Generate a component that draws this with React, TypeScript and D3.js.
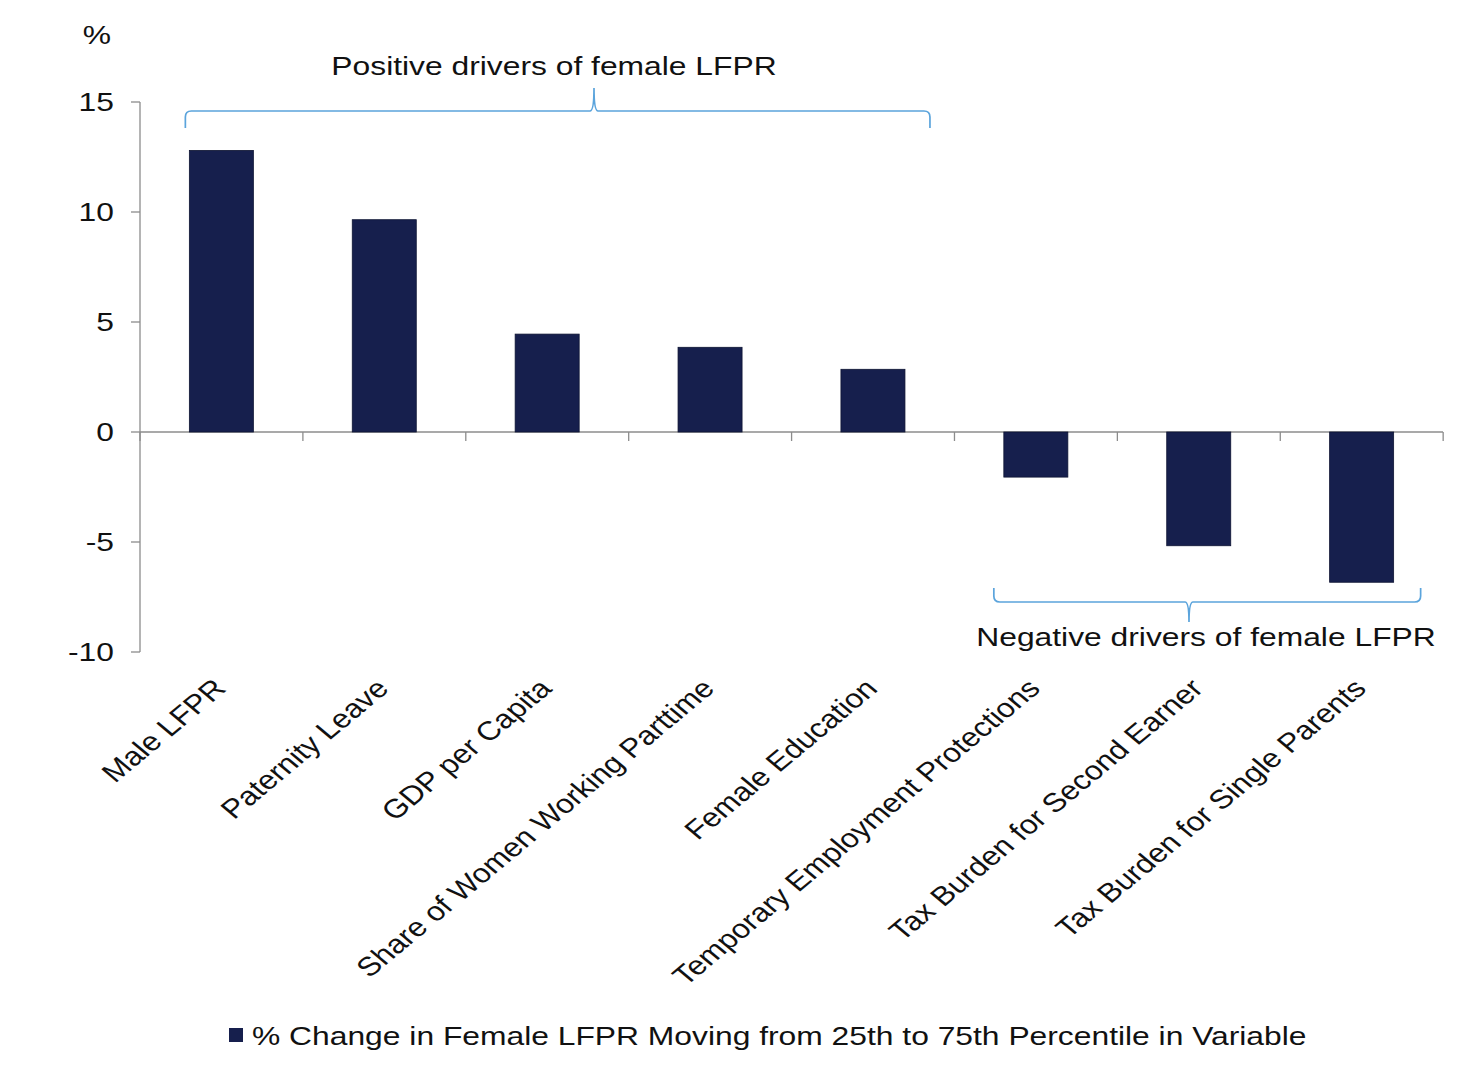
import * as d3 from 'd3';

const categories = [
  'Male LFPR',
  'Paternity Leave',
  'GDP per Capita',
  'Share of Women Working Parttime',
  'Female Education',
  'Temporary Employment Protections',
  'Tax Burden for Second Earner',
  'Tax Burden for Single Parents',
];
const values = [12.8, 9.65, 4.45, 3.85, 2.85, -2.05, -5.17, -6.83];
const yTicks = [15, 10, 5, 0, -5, -10];
const legendLabel = '% Change in Female LFPR Moving from 25th to 75th Percentile in Variable';
const positiveLabel = 'Positive drivers of female LFPR';
const negativeLabel = 'Negative drivers of female LFPR';

const W = 1480;
const H = 1070;
const FONT = 'Arial, "Liberation Sans", sans-serif';
const FS = 26.5;
const SX = 1.2; // the original picture is stretched horizontally
const BAR = '#161f4d';
const AXIS = '#8c8c8c';
const BRACE = '#5ba4dc';

// curly brace from x0 to x1 with its tip at xm
function bracePath(x0: number, x1: number, xm: number, yLine: number, yEnd: number, yTip: number) {
  const s = Math.sign(yEnd - yLine);
  const r = 6;
  const t = 4;
  return [
    `M${x0},${yEnd}`,
    `L${x0},${yLine + s * r}`,
    `Q${x0},${yLine} ${x0 + r},${yLine}`,
    `L${xm - t},${yLine}`,
    `Q${xm},${yLine} ${xm},${yTip}`,
    `Q${xm},${yLine} ${xm + t},${yLine}`,
    `L${x1 - r},${yLine}`,
    `Q${x1},${yLine} ${x1},${yLine + s * r}`,
    `L${x1},${yEnd}`,
  ].join(' ');
}

function Label({ x, y, anchor = 'start', rotate = 0, dy, children }: {
  x: number; y: number; anchor?: string; rotate?: number; dy?: string; children: string;
}) {
  return (
    <text transform={`translate(${x},${y}) scale(${SX},1) rotate(${rotate})`}
      textAnchor={anchor} dy={dy} fontSize={FS} fill="#111">{children}</text>
  );
}

export default function App() {
  const x = d3.scaleBand<string>()
    .domain(categories)
    .range([140, 1443])
    .paddingInner(0.607)
    .paddingOuter(0.303);
  const y = d3.scaleLinear().domain([-10, 15]).range([652, 102]);
  const step = x.step();
  const bw = x.bandwidth();
  const left = x.range()[0];

  const posStart = x(categories[0])! - 4;
  const posEnd = x(categories[4])! + bw + 25;
  const negStart = x(categories[5])! - 10;
  const negEnd = x(categories[7])! + bw + 27;

  return (
    <svg width={W} height={H} style={{ position: 'absolute', left: 0, top: 0, background: '#fff' }}
      fontFamily={FONT}>
      {/* y axis */}
      <line x1={left} x2={left} y1={y(15)} y2={y(-10)} stroke={AXIS} strokeWidth={1.3} />
      {yTicks.map(t => (
        <g key={t}>
          <line x1={left - 9} x2={left} y1={y(t)} y2={y(t)} stroke={AXIS} strokeWidth={1.3} />
          <Label x={114} y={y(t)} dy="0.35em" anchor="end">{String(t)}</Label>
        </g>
      ))}
      <Label x={97} y={35} dy="0.35em" anchor="middle">%</Label>

      {/* x axis at zero */}
      <line x1={left} x2={1443} y1={y(0)} y2={y(0)} stroke={AXIS} strokeWidth={1.3} />
      {d3.range(categories.length + 1).map(i => (
        <line key={i} x1={left + i * step} x2={left + i * step} y1={y(0)} y2={y(0) + 9}
          stroke={AXIS} strokeWidth={1.3} />
      ))}

      {/* bars */}
      {categories.map((c, i) => (
        <rect key={c} x={x(c)} width={bw}
          y={y(Math.max(0, values[i]))}
          height={Math.abs(y(values[i]) - y(0))}
          fill={BAR} stroke="#0e1433" strokeWidth={0.8} />
      ))}

      {/* category labels */}
      {categories.map(c => (
        <Label key={c} x={x(c)! + bw / 2 + 6} y={690} anchor="end" rotate={-45}>{c}</Label>
      ))}

      {/* braces */}
      <path d={bracePath(posStart, posEnd, 594, 111, 128, 88)} fill="none" stroke={BRACE} strokeWidth={1.7} />
      <Label x={554} y={75} anchor="middle">{positiveLabel}</Label>
      <path d={bracePath(negStart, negEnd, 1189, 602, 588, 622)} fill="none" stroke={BRACE} strokeWidth={1.7} />
      <Label x={1206} y={646} anchor="middle">{negativeLabel}</Label>

      {/* legend */}
      <rect x={229} y={1028} width={14} height={14} fill={BAR} />
      <Label x={252} y={1045}>{legendLabel}</Label>
    </svg>
  );
}
